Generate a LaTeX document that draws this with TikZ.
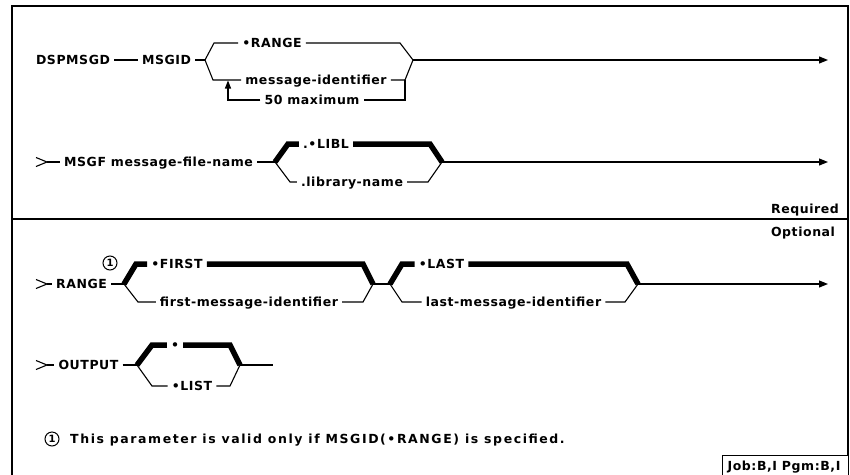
\documentclass[tikz,border=0pt]{standalone}
\usepackage{fontspec}
\setmainfont{DejaVu Sans}[LetterSpace=4.5]
\usetikzlibrary{arrows.meta}
\newcommand{\lblfont}{\fontsize{12.5}{15}\selectfont\bfseries}
\newcommand{\numfont}{\fontsize{10}{11}\selectfont\bfseries}
\begin{document}
\begin{tikzpicture}[x=1pt,y=-1pt,
  ln/.style={line width=1.1pt},
  bar/.style={line width=5.5pt, line join=miter},
  lbl/.style={font=\lblfont, inner xsep=4pt, inner ysep=0pt, text height=9.1pt, text depth=0pt},
  arr/.style={ln,-{Triangle[length=9pt,width=7pt]}},
  num/.style={circle, draw, line width=1pt, inner sep=0.6pt, minimum size=14pt, font=\numfont}
]
\useasboundingbox (0,0) rectangle (850,474);
% frame
\draw[line width=1.4pt] (12,480) -- (12,6) -- (848,6) -- (848,455);
\draw[line width=1.4pt] (12,219) -- (848,219);
\node[draw, line width=1.4pt, minimum width=126pt, minimum height=24pt, anchor=north west] (job) at (722,455) {};
\node[lbl, inner xsep=0pt] (jobt) at (784,466) {Job:B,I Pgm:B,I};
\node[lbl] (req) at (805,209) {Required};
\node[lbl] (opt) at (803,232) {Optional};

% ---------- row 1
\node[lbl] (dsp) at (73,60) {DSPMSGD};
\node[lbl] (msgid) at (166.5,60) {MSGID};
\coordinate (j1a) at (205,60);
\coordinate (j1b) at (413,60);
\coordinate (e1) at (828,60);
\draw[ln] (dsp.east) -- (msgid.west);
\draw[ln] (msgid.east) -- (j1a);
\node[lbl] (rng) at (272,43) {•RANGE};
\node[lbl] (mid) at (316,80) {message-identifier};
\node[lbl] (max) at (312,100) {50 maximum};
\draw[ln] (j1a) -- (214,43) -- (rng.west);
\draw[ln] (rng.east) -- (400,43) -- (j1b);
\draw[ln] (j1a) -- (213,80) -- (mid.west);
\draw[ln] (mid.east) -- (405,80) -- (j1b);
\draw[ln] (405,80) -- (405,100) -- (max.east);
\draw[ln,-{Triangle[length=8pt,width=6pt]}] (max.west) -- (228,100) -- (228,80.5);
\draw[arr] (j1b) -- (e1);

% ---------- row 2
\coordinate (s2) at (47,162);
\draw[ln] (36,157.5) -- (s2) -- (36,166.5);
\node[lbl] (msgf) at (158.5,162) {MSGF message-file-name};
\draw[ln] (s2) -- (msgf.west);
\coordinate (j2a) at (275,162);
\coordinate (j2b) at (442,162);
\coordinate (e2) at (828,162);
\draw[ln] (msgf.east) -- (j2a);
\node[lbl] (libl) at (326,144) {.•LIBL};
\node[lbl] (lib) at (352,182) {.library-name};
\draw[bar] (j2a) -- (288,144) -- (libl.west);
\draw[bar] (libl.east) -- (430,144) -- (j2b);
\draw[ln] (j2a) -- (290,182) -- (lib.west);
\draw[ln] (lib.east) -- (428,182) -- (j2b);
\draw[arr] (j2b) -- (e2);

% ---------- row 3
\coordinate (s3) at (47,284);
\draw[ln] (36,279.5) -- (s3) -- (36,288.5);
\node[lbl] (range) at (81.5,284) {RANGE};
\draw[ln] (s3) -- (range.west);
\node[num] (n1) at (110,263) {1};
\coordinate (j3a) at (124,284);
\coordinate (j3b) at (373,284);
\coordinate (j3c) at (390,284);
\coordinate (j3d) at (638,284);
\coordinate (e3) at (828,284);
\draw[ln] (range.east) -- (j3a);
\node[lbl] (first) at (177,264) {•FIRST};
\node[lbl] (fmi) at (249,302) {first-message-identifier};
\draw[bar] (j3a) -- (136,264) -- (first.west);
\draw[bar] (first.east) -- (363,264) -- (j3b);
\draw[ln] (j3a) -- (138,302) -- (fmi.west);
\draw[ln] (fmi.east) -- (363,302) -- (j3b);
\draw[ln] (j3b) -- (j3c);
\node[lbl] (last) at (441.5,264) {•LAST};
\node[lbl] (lmi) at (513.5,302) {last-message-identifier};
\draw[bar] (j3c) -- (402,264) -- (last.west);
\draw[bar] (last.east) -- (627,264) -- (j3d);
\draw[ln] (j3c) -- (402,302) -- (lmi.west);
\draw[ln] (lmi.east) -- (625,302) -- (j3d);
\draw[arr] (j3d) -- (e3);

% ---------- row 4
\coordinate (s4) at (47,365);
\draw[ln] (36,360.5) -- (s4) -- (36,369.5);
\node[lbl] (out) at (88.5,365) {OUTPUT};
\draw[ln] (s4) -- (out.west);
\coordinate (j4a) at (137,365);
\coordinate (j4b) at (240,365);
\coordinate (e4) at (273,365);
\draw[ln] (out.east) -- (j4a);
\node[lbl] (star) at (175,345) {•};
\node[lbl] (list) at (192,386) {•LIST};
\draw[bar] (j4a) -- (152,345) -- (star.west);
\draw[bar] (star.east) -- (230,345) -- (j4b);
\draw[ln] (j4a) -- (152,386) -- (list.west);
\draw[ln] (list.east) -- (230,386) -- (j4b);
\draw[ln] (j4b) -- (e4);

% ---------- footnote
\node[num] (fn) at (52,439) {1};
\node[lbl, anchor=west, font=\lblfont\addfontfeature{LetterSpace=12.5}] (fnt) at (66,439) {This parameter is valid only if MSGID(•RANGE) is specified.};
\end{tikzpicture}
\end{document}
